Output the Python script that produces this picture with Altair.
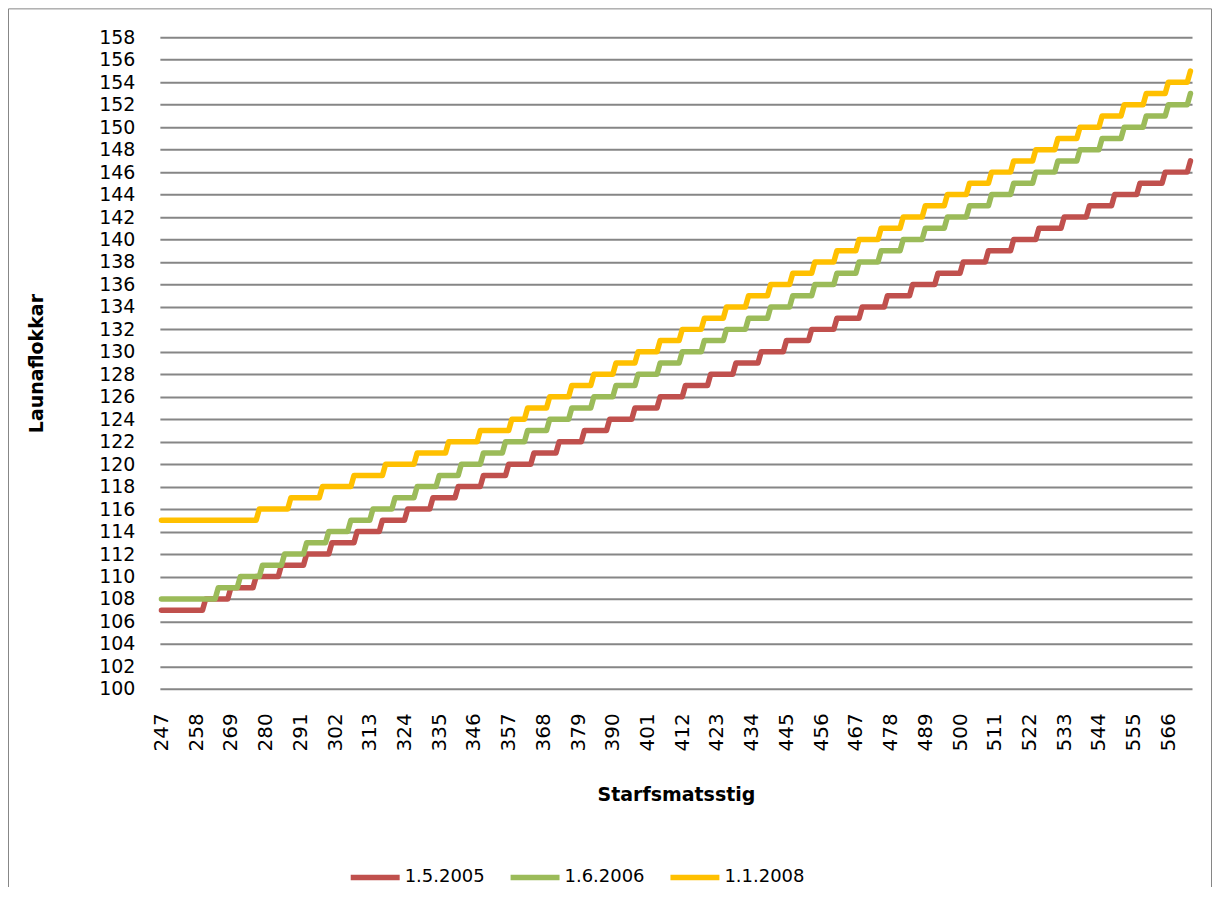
import altair as alt
import pandas as pd

FONT = "DejaVu Sans"

series_names = ["1.5.2005", "1.6.2006", "1.1.2008"]
series_colors = ["#C0504D", "#9BBB59", "#FFC000"]

x_first = 247
x_last = 573

# start point (starfsmatsstig) of each launaflokkur level
red_starts = [247, 261, 269, 277, 285, 293, 301, 309, 317, 325, 333, 341, 349, 357,
              365, 373, 381, 389, 397, 405, 413, 421, 429, 437, 445, 453, 461, 469,
              477, 485, 493, 501, 509, 517, 525, 533, 541, 549, 557, 565, 573]
red_levels = [107, 108, 109, 110, 111, 112, 113, 114, 115, 116, 117, 118, 119, 120,
              121, 122, 123, 124, 125, 126, 127, 128, 129, 130, 131, 132, 133, 134,
              135, 136, 137, 138, 139, 140, 141, 142, 143, 144, 145, 146, 147]

green_starts = [247, 265, 272, 279, 286, 293, 300, 307, 314, 321, 328, 335, 342, 349,
                356, 363, 370, 377, 384, 391, 398, 405, 412, 419, 426, 433, 440, 447,
                454, 461, 468, 475, 482, 489, 496, 503, 510, 517, 524, 531, 538, 545,
                552, 559, 566, 573]
green_levels = [108, 109, 110, 111, 112, 113, 114, 115, 116, 117, 118, 119, 120, 121,
                122, 123, 124, 125, 126, 127, 128, 129, 130, 131, 132, 133, 134, 135,
                136, 137, 138, 139, 140, 141, 142, 143, 144, 145, 146, 147, 148, 149,
                150, 151, 152, 153]

yellow_starts = [247, 278, 288, 298, 308, 318, 328, 338, 348, 358, 363, 370, 377, 384,
                 391, 398, 405, 412, 419, 426, 433, 440, 447, 454, 461, 468, 475, 482,
                 489, 496, 503, 510, 517, 524, 531, 538, 545, 552, 559, 566, 573]
yellow_levels = [115, 116, 117, 118, 119, 120, 121, 122, 123, 124, 125, 126, 127, 128,
                 129, 130, 131, 132, 133, 134, 135, 136, 137, 138, 139, 140, 141, 142,
                 143, 144, 145, 146, 147, 148, 149, 150, 151, 152, 153, 154, 155]

x_tick_labels = [247, 258, 269, 280, 291, 302, 313, 324, 335, 346, 357, 368, 379, 390,
                 401, 412, 423, 434, 445, 456, 467, 478, 489, 500, 511, 522, 533, 544,
                 555, 566]
y_tick_labels = [100, 102, 104, 106, 108, 110, 112, 114, 116, 118, 120, 122, 124, 126,
                 128, 130, 132, 134, 136, 138, 140, 142, 144, 146, 148, 150, 152, 154,
                 156, 158]

rows = []
for name, starts, levels in [(series_names[0], red_starts, red_levels),
                             (series_names[1], green_starts, green_levels),
                             (series_names[2], yellow_starts, yellow_levels)]:
    j = 0
    for c in range(x_first, x_last + 1):
        while j + 1 < len(starts) and starts[j + 1] <= c:
            j += 1
        rows.append({"Starfsmatsstig": c, "Launaflokkur": levels[j], "Dags": name})
df = pd.DataFrame(rows)

W, H = 1033, 652

x_enc = alt.X(
    "Starfsmatsstig:Q",
    scale=alt.Scale(domain=[x_first - 0.5, x_last + 0.5], nice=False, zero=False),
    axis=alt.Axis(values=x_tick_labels, labelAngle=270, grid=False, ticks=False,
                  tickSize=0, domain=False, labelPadding=24, labelFontSize=20,
                  labelFont=FONT, labelColor="black", labelOverlap=False,
                  labelFlush=False, format="d",
                  title="Starfsmatsstig", titleFont=FONT, titleFontSize=19,
                  titleFontWeight="bold", titleColor="black", titleX=W / 2,
                  titleY=106, titleAlign="center", titleBaseline="middle"),
)
y_enc = alt.Y(
    "Launaflokkur:Q",
    scale=alt.Scale(domain=[100, 158], nice=False, zero=False),
    axis=alt.Axis(values=y_tick_labels, grid=True, gridColor="#868686", gridWidth=2,
                  ticks=False, tickSize=0, domain=False, labelPadding=25,
                  labelFontSize=19, labelFont=FONT, labelColor="black",
                  labelOverlap=False, format="d",
                  title="Launaflokkar", titleFont=FONT, titleFontSize=19,
                  titleFontWeight="bold", titleColor="black", titleAngle=270,
                  titleX=-123, titleY=H / 2, titleAlign="center",
                  titleBaseline="middle"),
)
color_enc = alt.Color(
    "Dags:N",
    scale=alt.Scale(domain=series_names, range=series_colors),
    legend=alt.Legend(title=None, orient="none", direction="horizontal",
                      legendX=188, legendY=813, symbolType="stroke",
                      symbolSize=2400, symbolStrokeWidth=5.5, labelFont=FONT,
                      labelFontSize=18, labelColor="black", labelOffset=2,
                      columnPadding=14, padding=0),
)

layers = []
for name in series_names:
    layers.append(
        alt.Chart(df)
        .transform_filter(alt.datum.Dags == name)
        .mark_line(strokeWidth=5.5, strokeCap="round", strokeJoin="round")
        .encode(x=x_enc, y=y_enc, color=color_enc)
    )

border = alt.Chart(pd.DataFrame({"k": [0]})).mark_rect(
    filled=False, stroke="#868686", strokeWidth=1
).encode(x=alt.value(-151.5), x2=alt.value(1052.5), y=alt.value(-28.5), y2=alt.value(900))

chart = alt.layer(border, *layers).properties(
    width=W, height=H,
    autosize=alt.AutoSizeParams(type="none"),
    padding={"left": 152, "top": 29, "right": 21, "bottom": 198},
).configure_view(strokeWidth=0)

chart.save("out.html", embed_options={"renderer": "svg", "actions": False})
